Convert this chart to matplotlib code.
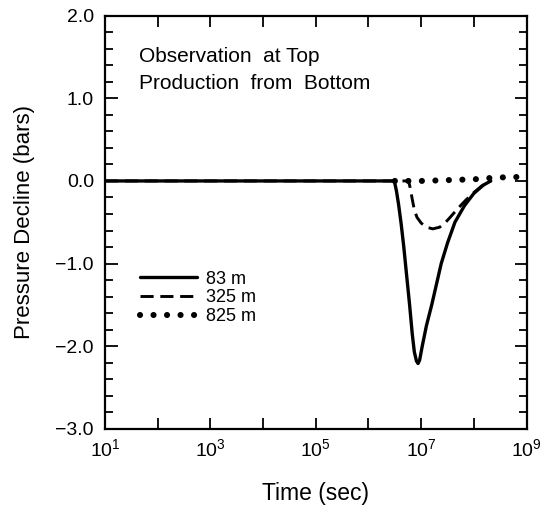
import numpy as np
import matplotlib
matplotlib.use("Agg")
import matplotlib.pyplot as plt
from matplotlib.ticker import FixedLocator, FuncFormatter, MultipleLocator

plt.rcParams['font.family'] = ['Liberation Sans', 'DejaVu Sans']
plt.rcParams['mathtext.fontset'] = 'custom'
plt.rcParams['mathtext.rm'] = 'Liberation Sans'

# log10(time) and pressure decline
log_t_83 = [1, 6.48, 6.5, 6.53, 6.57, 6.62, 6.67, 6.72, 6.78, 6.83, 6.87, 6.91,
            6.94, 6.97, 7.02, 7.1, 7.2, 7.29, 7.38, 7.5, 7.64, 7.82, 8.0, 8.18, 8.32]
p_83 = [0, 0, -0.03, -0.12, -0.28, -0.52, -0.8, -1.12, -1.5, -1.85, -2.07, -2.18,
        -2.21, -2.17, -2.0, -1.75, -1.5, -1.25, -1.0, -0.75, -0.5, -0.3, -0.15, -0.05, 0.0]

log_t_325 = [1, 6.76, 6.79, 6.83, 6.87, 6.92, 7.0, 7.1, 7.22, 7.35, 7.45, 7.55,
             7.7, 7.85, 8.0, 8.15, 8.32]
p_325 = [0, 0, -0.08, -0.22, -0.35, -0.44, -0.51, -0.56, -0.58, -0.56, -0.51, -0.44,
         -0.33, -0.23, -0.14, -0.06, 0.0]

log_t_825 = [6.5, 7.0, 7.5, 8.0, 8.3, 8.6, 9.0]
p_825 = [0, 0, 0.01, 0.02, 0.035, 0.045, 0.05]

labels = ['83 m', '325 m', '825 m']


def xfmt(v, pos):
    k = int(round(np.log10(v)))
    return r'$\mathregular{10^{%d}}$' % k if k % 2 == 1 else ''


def yfmt(v, pos):
    return ('%.1f' % v).replace('-', '\u2212')


fig = plt.figure(figsize=(5.44, 5.08), dpi=100)
ax = fig.add_axes([0.193, 0.156, 0.775, 0.813])

ax.plot(10 ** np.array(log_t_83), p_83, color='black', lw=2.4,
        solid_capstyle='round', solid_joinstyle='round', label=labels[0], zorder=3)
ax.plot(10 ** np.array(log_t_325), p_325, color='black', lw=2.1,
        linestyle=(0, (4.5, 2.3)), label=labels[1], zorder=2)
ax.plot(10 ** np.array(log_t_825), p_825, color='black', lw=4.4,
        linestyle=(0, (0.01, 2.2)), dash_capstyle='round', label=labels[2],
        zorder=4)

ax.set_xscale('log')
ax.set_xlim(1e1, 1e9)
ax.set_ylim(-3.0, 2.0)

ax.xaxis.set_major_locator(FixedLocator([10.0 ** k for k in range(1, 10)]))
ax.xaxis.set_minor_locator(FixedLocator([]))
ax.xaxis.set_major_formatter(FuncFormatter(xfmt))
ax.yaxis.set_major_locator(MultipleLocator(1.0))
ax.yaxis.set_minor_locator(MultipleLocator(0.2))
ax.yaxis.set_major_formatter(FuncFormatter(yfmt))

ax.tick_params(which='both', direction='in', top=True, right=True,
               width=1.3, labelsize=14, color='black')
ax.tick_params(axis='x', which='major', length=8, pad=7)
ax.tick_params(axis='y', which='major', length=9, pad=8)
ax.tick_params(axis='y', which='minor', length=6)
for s in ax.spines.values():
    s.set_linewidth(1.6)

ax.set_xlabel('Time (sec)', fontsize=16.5)
ax.set_ylabel('Pressure Decline (bars)', fontsize=16)
ax.xaxis.set_label_coords(0.5, -0.13)
ax.yaxis.set_label_coords(-0.165, 0.5)

ax.text(0.08, 0.925, 'Observation  at Top\nProduction  from  Bottom',
        transform=ax.transAxes, fontsize=15, va='top', ha='left',
        linespacing=1.55)

leg = ax.legend(loc='center left', bbox_to_anchor=(0.082, 0.317), frameon=False,
                fontsize=13, handlelength=3.2, handletextpad=0.5,
                labelspacing=0.1, borderpad=0, borderaxespad=0)

fig.savefig('out.png', dpi=100)
